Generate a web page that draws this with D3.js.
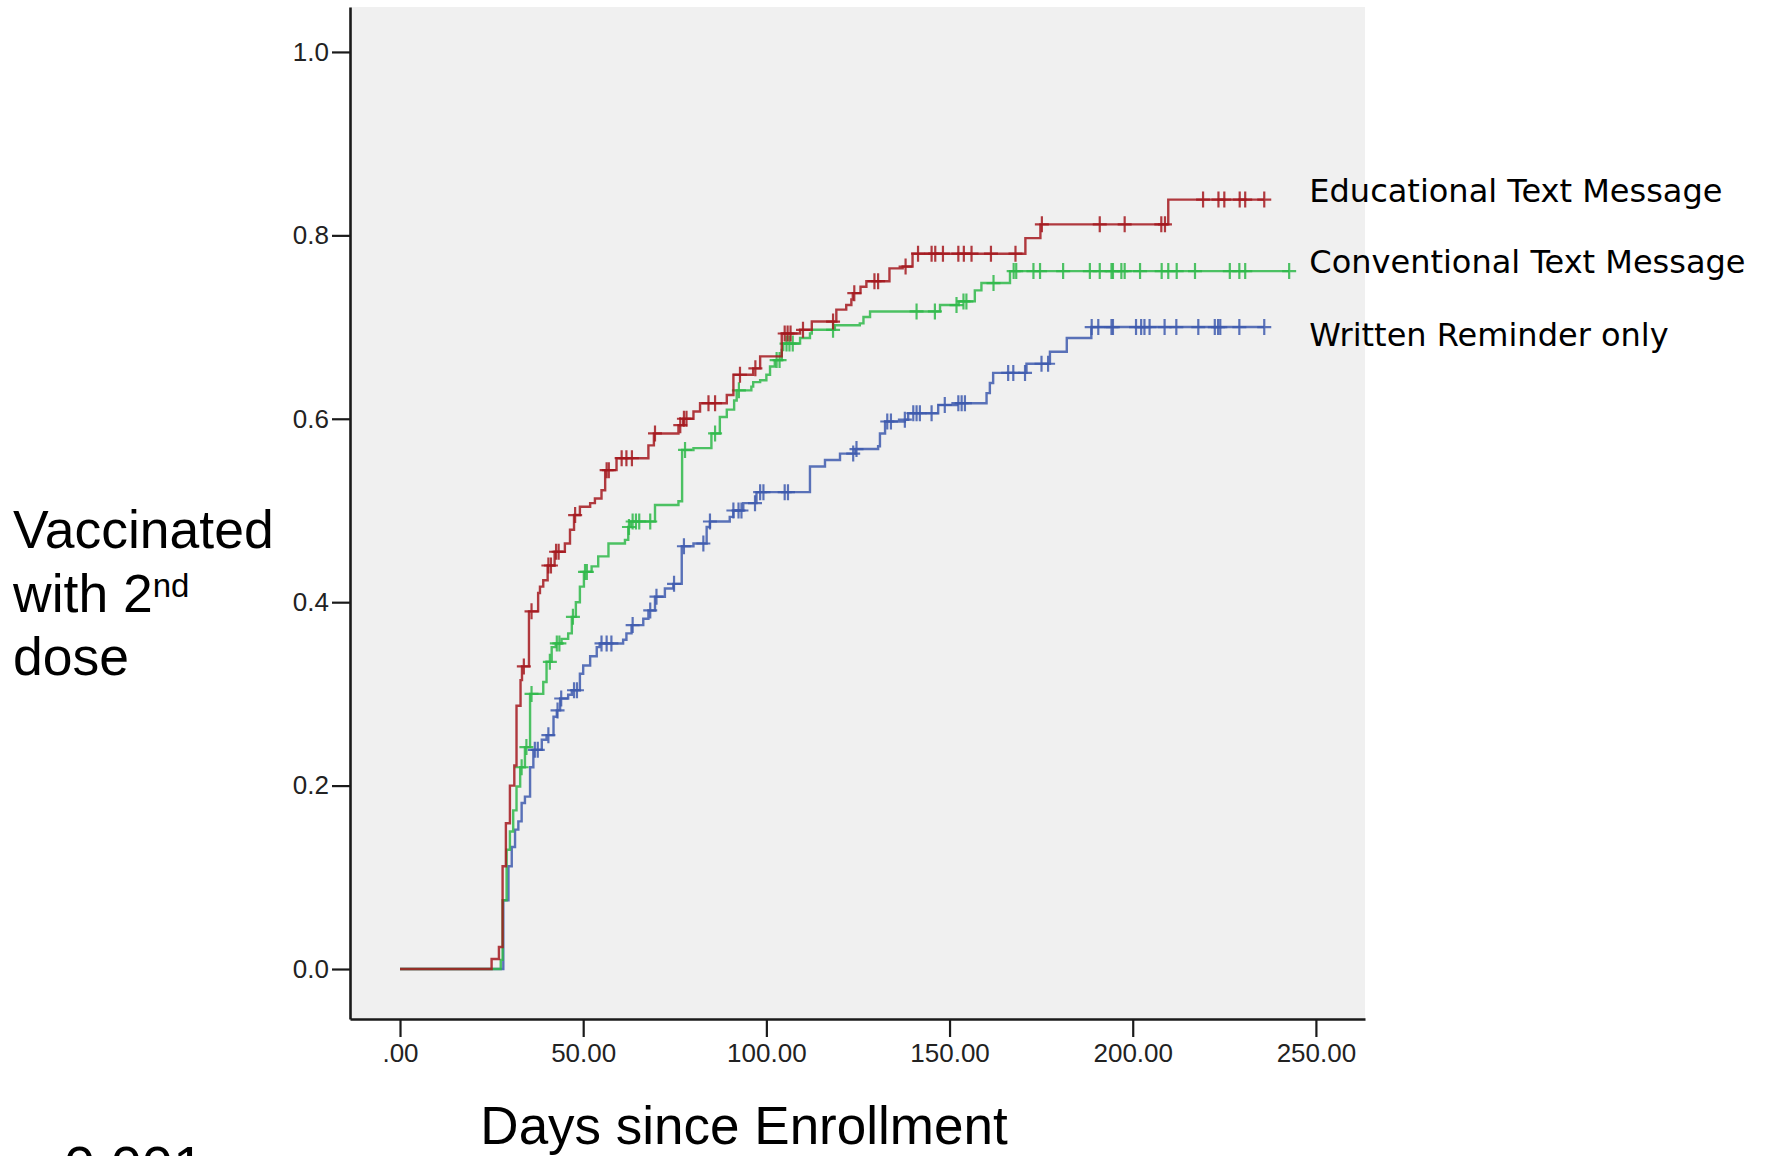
<!DOCTYPE html>
<html lang="en">
<head>
<meta charset="utf-8">
<script src="https://d3js.org/d3.v7.min.js"></script>
<style>
    body { margin: 0; background: #fff; }
    .axis path, .axis line { stroke: #1a1a1a; }
    .axis text {
        font-family: "Liberation Sans", Arial, sans-serif;
        font-size: 26px;
        fill: #222;
    }
    .title { font-family: "Liberation Sans", Arial, sans-serif; fill: #000; }
    .legend text {
        font-family: "DejaVu Sans", Verdana, sans-serif;
        font-size: 32px;
        fill: #000;
    }
</style>
</head>
<body>
<svg id="chart" width="1765" height="1156"></svg>
<script>
    // tick values and labels
    var xTicks = [0, 50, 100, 150, 200, 250];
    var xTickLabels = [".00", "50.00", "100.00", "150.00", "200.00", "250.00"];
    var yTicks = [0, 0.2, 0.4, 0.6, 0.8, 1.0];

    var groupNames = ["Educational Text Message", "Conventional Text Message", "Written Reminder only"];
    var groupColors = ["#a5191f", "#2fb84a", "#3e5aae"];
    var labelP = [0.836, 0.759, 0.679];
    var labelDay = 248.2;

    // Educational text message (red)
    var redTimes = [0, 25.0, 27.0, 28.0, 28.9, 30.0, 31.2, 31.8, 32.9, 33.3,
        35.2, 37.7, 38.2, 39.1, 40.3, 42.2, 45.0, 46.4, 47.5, 49.1,
        51.9, 53.2, 55.0, 56.0, 59.1, 67.8, 69.3, 76.0, 77.3, 80.1,
        81.9, 89.2, 91.0, 96.4, 98.3, 104.2, 109.2, 112.4, 119.1, 121.8,
        123.2, 123.6, 125.7, 127.3, 133.6, 137.2, 139.9, 170.7, 174.8, 209.7];
    var redSurv = [0, 0.011, 0.024, 0.112, 0.159, 0.200, 0.222, 0.287, 0.315, 0.330,
        0.390, 0.410, 0.417, 0.424, 0.440, 0.455, 0.464, 0.479, 0.495, 0.504,
        0.508, 0.513, 0.522, 0.544, 0.557, 0.571, 0.584, 0.593, 0.600, 0.608,
        0.617, 0.626, 0.648, 0.655, 0.668, 0.693, 0.697, 0.706, 0.719, 0.724,
        0.730, 0.737, 0.744, 0.750, 0.764, 0.766, 0.780, 0.797, 0.812, 0.839];
    var redCensor = [33.8, 35.9, 40.5, 41.2, 42.6, 43.3, 47.8, 56.4, 57.0, 60.5,
        61.8, 63.3, 69.6, 76.5, 77.5, 78.2, 84.2, 86.0, 92.8, 97.0,
        105.0, 105.8, 106.6, 110.0, 118.2, 124.0, 129.5, 130.5, 138.0, 141.4,
        145.1, 146.1, 148.2, 152.4, 153.9, 156.0, 161.3, 168.0, 175.2, 191.0,
        197.8, 207.8, 208.8, 219.2, 223.4, 225.0, 229.2, 230.7, 235.9];

    // Conventional text message (green)
    var greenTimes = [0, 27.5, 28.0, 29.1, 30.0, 30.9, 31.8, 32.8, 34.1, 35.5,
        39.1, 40.0, 41.4, 42.5, 44.1, 45.9, 46.9, 48.0, 49.1, 50.2,
        52.3, 54.1, 56.9, 61.4, 62.3, 63.0, 69.6, 76.0, 77.0, 80.1,
        85.0, 87.3, 89.2, 91.2, 91.9, 95.9, 96.4, 98.3, 100.0, 101.0,
        102.3, 104.2, 104.6, 109.2, 111.9, 112.4, 118.7, 125.5, 126.5, 128.3,
        147.4, 152.5, 156.9, 158.7, 166.5];
    var greenSurv = [0, 0.010, 0.075, 0.130, 0.150, 0.173, 0.199, 0.220, 0.242, 0.300,
        0.313, 0.335, 0.351, 0.355, 0.360, 0.366, 0.384, 0.400, 0.417, 0.433,
        0.439, 0.450, 0.464, 0.468, 0.482, 0.488, 0.506, 0.510, 0.566, 0.568,
        0.584, 0.602, 0.610, 0.620, 0.631, 0.635, 0.640, 0.642, 0.648, 0.657,
        0.664, 0.675, 0.682, 0.688, 0.693, 0.697, 0.702, 0.704, 0.711, 0.717,
        0.724, 0.728, 0.740, 0.748, 0.761];
    var greenCensor = [33.2, 34.5, 35.9, 40.9, 42.8, 43.5, 47.2, 50.5, 51.0, 62.5,
        63.5, 64.4, 65.3, 68.3, 77.8, 86.0, 92.5, 102.8, 103.6, 105.5,
        106.3, 107.2, 118.2, 141.0, 146.0, 151.9, 153.8, 154.6, 162.0, 167.5,
        168.2, 172.9, 174.7, 181.0, 188.3, 191.0, 194.2, 194.6, 196.9, 197.8,
        202.0, 207.9, 209.7, 212.0, 217.0, 226.5, 229.1, 230.7, 242.7];

    // Written reminder only (blue)
    var blueTimes = [0, 28.2, 29.6, 30.5, 31.4, 32.3, 33.2, 34.1, 35.5, 36.4,
        38.7, 40.0, 41.9, 42.8, 43.7, 45.9, 46.9, 49.1, 50.0, 51.9,
        53.7, 54.5, 60.9, 61.8, 63.2, 66.4, 67.8, 69.6, 72.3, 74.6,
        76.9, 80.1, 83.7, 84.6, 90.0, 91.0, 93.7, 97.3, 111.9, 116.0,
        120.1, 124.3, 130.5, 131.0, 132.4, 137.8, 138.7, 146.9, 152.0, 160.1,
        161.0, 161.9, 171.0, 177.4, 182.0, 188.7];
    var blueSurv = [0, 0.075, 0.112, 0.133, 0.152, 0.161, 0.181, 0.188, 0.220, 0.239,
        0.250, 0.255, 0.275, 0.282, 0.295, 0.299, 0.304, 0.322, 0.331, 0.341,
        0.351, 0.355, 0.359, 0.366, 0.375, 0.382, 0.391, 0.406, 0.415, 0.420,
        0.461, 0.464, 0.482, 0.488, 0.493, 0.500, 0.508, 0.520, 0.548, 0.555,
        0.562, 0.567, 0.570, 0.584, 0.597, 0.599, 0.606, 0.615, 0.617, 0.628,
        0.639, 0.650, 0.660, 0.673, 0.688, 0.700];
    var blueCensor = [36.8, 37.6, 40.5, 43.0, 44.0, 47.5, 48.3, 55.0, 56.4, 57.7,
        63.5, 68.3, 70.0, 74.8, 77.5, 82.8, 84.6, 91.0, 92.4, 93.2,
        96.9, 98.3, 99.2, 105.0, 105.9, 123.7, 124.6, 133.0, 134.0, 137.8,
        140.1, 141.0, 141.9, 145.1, 148.7, 152.4, 153.3, 154.2, 166.0, 167.4,
        170.6, 175.1, 176.9, 188.8, 190.6, 194.2, 194.6, 200.9, 202.3, 203.2,
        204.6, 208.7, 211.9, 217.9, 222.4, 223.3, 223.9, 229.1, 235.9];

    var svg = d3.select("#chart");

    var x = d3.scaleLinear().domain([-13.65, 263.4]).range([350, 1365]);
    var y = d3.scaleLinear().domain([-0.0545, 1.049]).range([1019, 7]);

    // plot background
    svg.append("rect")
        .attr("x", x.range()[0])
        .attr("y", y.range()[1])
        .attr("width", x.range()[1] - x.range()[0])
        .attr("height", y.range()[0] - y.range()[1])
        .attr("fill", "#f0f0f0");

    function survAt(times, surv, t) {
        var i = d3.bisectRight(times, t) - 1;
        return surv[Math.max(i, 0)];
    }

    var series = [
        {times: blueTimes, surv: blueSurv, censor: blueCensor, color: groupColors[2]},
        {times: greenTimes, surv: greenSurv, censor: greenCensor, color: groupColors[1]},
        {times: redTimes, surv: redSurv, censor: redCensor, color: groupColors[0]}
    ];

    var line = d3.line()
        .curve(d3.curveStepAfter)
        .x(d => x(d[0]))
        .y(d => y(d[1]));

    series.forEach(function(s) {
        var pts = s.times.map((t, i) => [t, s.surv[i]]);
        var lastT = d3.max(s.censor);
        pts.push([lastT, s.surv[s.surv.length - 1]]);

        svg.append("path")
            .attr("d", line(pts))
            .attr("fill", "none")
            .attr("stroke", s.color)
            .attr("stroke-width", 2.4)
            .attr("stroke-opacity", 0.85);

        svg.append("g")
            .selectAll("path")
            .data(s.censor)
            .join("path")
            .attr("transform", t => "translate(" + x(t) + "," + y(survAt(s.times, s.surv, t)) + ")")
            .attr("d", "M-7,0H7M0,-8V8")
            .attr("fill", "none")
            .attr("stroke", s.color)
            .attr("stroke-width", 2.2)
            .attr("stroke-opacity", 0.85);
    });

    // axes
    var yAxis = svg.append("g")
        .attr("class", "axis")
        .attr("transform", "translate(" + x.range()[0] + ",0)")
        .call(d3.axisLeft(y).tickValues(yTicks).tickFormat(d3.format(".1f"))
            .tickSize(18).tickSizeOuter(0).tickPadding(3));
    yAxis.select(".domain").attr("stroke-width", 2.6);
    yAxis.selectAll(".tick line").attr("stroke-width", 2.2);

    var xAxis = svg.append("g")
        .attr("class", "axis")
        .attr("transform", "translate(0," + y.range()[0] + ")")
        .call(d3.axisBottom(x).tickValues(xTicks).tickFormat((d, i) => xTickLabels[i])
            .tickSize(18).tickSizeOuter(0).tickPadding(7));
    xAxis.select(".domain").attr("stroke-width", 2.6);
    xAxis.selectAll(".tick line").attr("stroke-width", 2.2);

    // group labels
    svg.append("g")
        .attr("class", "legend")
        .selectAll("text")
        .data(groupNames)
        .join("text")
        .attr("x", x(labelDay))
        .attr("y", (d, i) => y(labelP[i]))
        .text(d => d);

    // axis titles
    svg.append("text")
        .attr("class", "title")
        .attr("x", 744)
        .attr("y", 1144)
        .attr("text-anchor", "middle")
        .style("font-size", "53px")
        .text("Days since Enrollment");

    var yTitle = svg.append("text")
        .attr("class", "title")
        .style("font-size", "53.5px");
    yTitle.append("tspan").attr("x", 13).attr("y", 548).text("Vaccinated");
    yTitle.append("tspan").attr("x", 13).attr("y", 612).text("with 2");
    yTitle.append("tspan").attr("dy", -15).style("font-size", "33px").text("nd");
    yTitle.append("tspan").attr("x", 13).attr("y", 675).text("dose");

    svg.append("text")
        .attr("class", "title")
        .attr("x", 64)
        .attr("y", 1185)
        .style("font-size", "56px")
        .text("0.001");
</script>
</body>
</html>
